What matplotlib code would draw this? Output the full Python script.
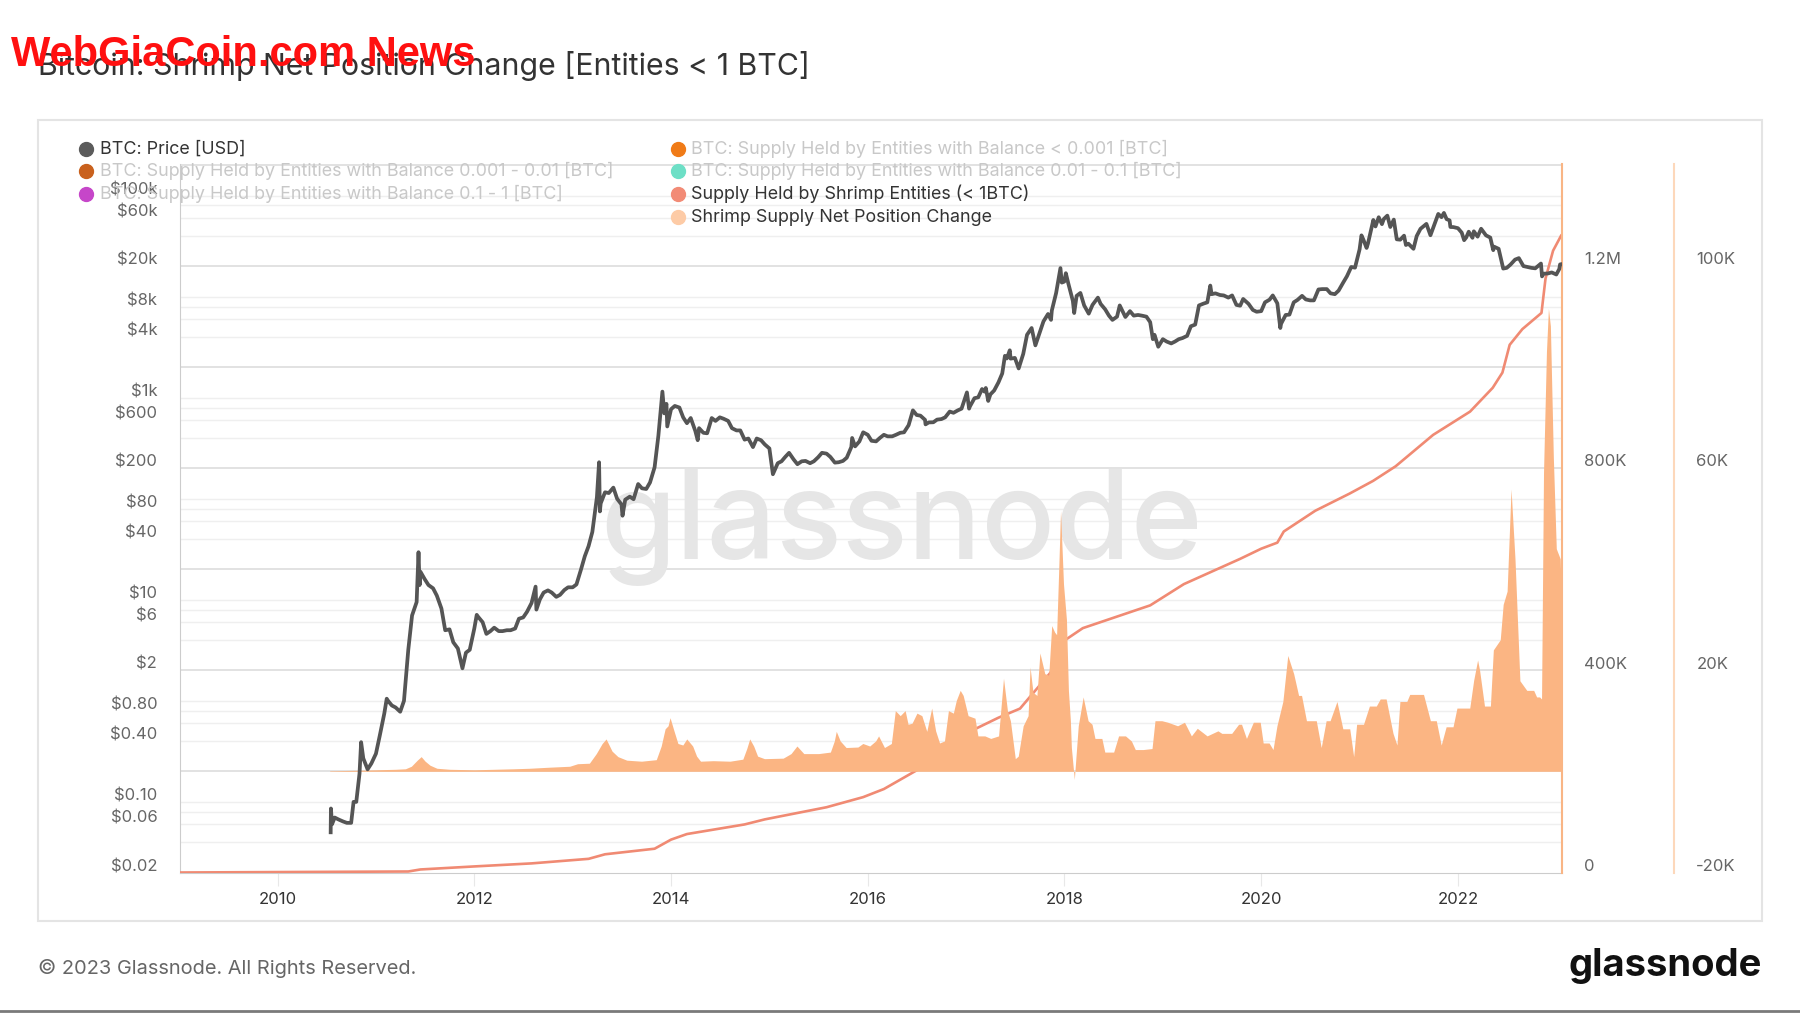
import numpy as np
import pandas as pd
import matplotlib
matplotlib.use('Agg')
import matplotlib.pyplot as plt
import matplotlib.transforms as mtransforms
from matplotlib.lines import Line2D
from matplotlib.patches import Rectangle

plt.rcParams['font.family'] = ['Inter', 'DejaVu Sans']

# ---------------- data ----------------
# BTC price (USD), roughly twice a month plus the visible peaks / troughs
price_dates = [
    '2010-07-17', '2010-07-18', '2010-07-22', '2010-08-01', '2010-08-15', '2010-09-01', '2010-09-15', '2010-10-01', '2010-10-10', '2010-10-20', '2010-11-01', '2010-11-07', '2010-11-15', '2010-12-01', '2010-12-15',
    '2011-01-01', '2011-01-15', '2011-02-01', '2011-02-10', '2011-02-15', '2011-03-01', '2011-03-15', '2011-04-01', '2011-04-15', '2011-05-01', '2011-05-15', '2011-06-01', '2011-06-08', '2011-06-12', '2011-06-15', '2011-07-01', '2011-07-15', '2011-08-01', '2011-08-15', '2011-09-01', '2011-09-15', '2011-10-01', '2011-10-15', '2011-11-01', '2011-11-18', '2011-12-01', '2011-12-15',
    '2012-01-01', '2012-01-10', '2012-01-15', '2012-02-01', '2012-02-15', '2012-03-01', '2012-03-15', '2012-04-01', '2012-04-15', '2012-05-01', '2012-05-15', '2012-06-01', '2012-06-15', '2012-07-01', '2012-07-15', '2012-08-01', '2012-08-16', '2012-08-19', '2012-09-01', '2012-09-15', '2012-10-01', '2012-10-15', '2012-11-01', '2012-11-15', '2012-12-01', '2012-12-15',
    '2013-01-01', '2013-01-15', '2013-02-01', '2013-02-15', '2013-03-01', '2013-03-15', '2013-04-01', '2013-04-09', '2013-04-12', '2013-04-15', '2013-05-01', '2013-05-15', '2013-06-01', '2013-06-15', '2013-07-01', '2013-07-05', '2013-07-15', '2013-08-01', '2013-08-15', '2013-09-01', '2013-09-15', '2013-10-01', '2013-10-15', '2013-11-01', '2013-11-15', '2013-11-30', '2013-12-07', '2013-12-15', '2013-12-18',
    '2014-01-01', '2014-01-15', '2014-02-01', '2014-02-15', '2014-03-01', '2014-03-15', '2014-04-01', '2014-04-10', '2014-04-15', '2014-05-01', '2014-05-15', '2014-06-01', '2014-06-15', '2014-07-01', '2014-07-15', '2014-08-01', '2014-08-15', '2014-09-01', '2014-09-15', '2014-10-01', '2014-10-15', '2014-11-01', '2014-11-15', '2014-12-01', '2014-12-15',
    '2015-01-01', '2015-01-14', '2015-02-01', '2015-02-15', '2015-03-01', '2015-03-15', '2015-04-01', '2015-04-15', '2015-05-01', '2015-05-15', '2015-06-01', '2015-06-15', '2015-07-01', '2015-07-15', '2015-08-01', '2015-08-15', '2015-09-01', '2015-09-15', '2015-10-01', '2015-10-15', '2015-11-01', '2015-11-04', '2015-11-15', '2015-12-01', '2015-12-15',
    '2016-01-01', '2016-01-15', '2016-02-01', '2016-02-15', '2016-03-01', '2016-03-15', '2016-04-01', '2016-04-15', '2016-05-01', '2016-05-15', '2016-06-01', '2016-06-17', '2016-07-01', '2016-07-15', '2016-08-01', '2016-08-03', '2016-08-15', '2016-09-01', '2016-09-15', '2016-10-01', '2016-10-15', '2016-11-01', '2016-11-15', '2016-12-01', '2016-12-15',
    '2017-01-04', '2017-01-12', '2017-01-15', '2017-02-01', '2017-02-15', '2017-03-01', '2017-03-10', '2017-03-15', '2017-03-24', '2017-04-01', '2017-04-15', '2017-05-01', '2017-05-15', '2017-05-25', '2017-06-01', '2017-06-12', '2017-06-15', '2017-07-01', '2017-07-15', '2017-08-01', '2017-08-15', '2017-09-01', '2017-09-15', '2017-10-01', '2017-10-15', '2017-11-01', '2017-11-12', '2017-11-15', '2017-12-01', '2017-12-17', '2017-12-22', '2017-12-31',
    '2018-01-06', '2018-01-15', '2018-02-01', '2018-02-06', '2018-02-15', '2018-03-01', '2018-03-15', '2018-04-01', '2018-04-15', '2018-05-05', '2018-05-15', '2018-06-01', '2018-06-15', '2018-06-28', '2018-07-15', '2018-07-25', '2018-08-15', '2018-09-01', '2018-09-15', '2018-10-01', '2018-10-15', '2018-11-01', '2018-11-15', '2018-11-25', '2018-12-01', '2018-12-15',
    '2019-01-01', '2019-01-15', '2019-02-01', '2019-02-15', '2019-03-01', '2019-03-15', '2019-04-01', '2019-04-15', '2019-05-01', '2019-05-15', '2019-06-01', '2019-06-15', '2019-06-26', '2019-07-01', '2019-07-15', '2019-08-01', '2019-08-15', '2019-09-01', '2019-09-15', '2019-10-01', '2019-10-15', '2019-10-26', '2019-11-15', '2019-12-01', '2019-12-15',
    '2020-01-01', '2020-01-15', '2020-02-01', '2020-02-13', '2020-03-01', '2020-03-12', '2020-03-15', '2020-04-01', '2020-04-15', '2020-05-01', '2020-05-15', '2020-06-01', '2020-06-15', '2020-07-01', '2020-07-15', '2020-08-01', '2020-08-15', '2020-09-01', '2020-09-15', '2020-10-01', '2020-10-15', '2020-11-01', '2020-11-15', '2020-12-01', '2020-12-15',
    '2021-01-01', '2021-01-08', '2021-01-15', '2021-01-27', '2021-02-01', '2021-02-15', '2021-02-21', '2021-03-01', '2021-03-13', '2021-03-25', '2021-04-01', '2021-04-14', '2021-04-25', '2021-05-08', '2021-05-19', '2021-06-01', '2021-06-15', '2021-06-22', '2021-07-01', '2021-07-20', '2021-08-01', '2021-08-15', '2021-09-06', '2021-09-21', '2021-10-01', '2021-10-20', '2021-11-01', '2021-11-10', '2021-11-20', '2021-12-01', '2021-12-04', '2021-12-15',
    '2022-01-01', '2022-01-15', '2022-01-24', '2022-02-01', '2022-02-10', '2022-02-24', '2022-03-01', '2022-03-15', '2022-03-28', '2022-04-15', '2022-05-01', '2022-05-12', '2022-05-15', '2022-06-01', '2022-06-18', '2022-07-01', '2022-07-15', '2022-08-01', '2022-08-15', '2022-09-01', '2022-09-15', '2022-10-01', '2022-10-15', '2022-11-05', '2022-11-09', '2022-11-15', '2022-12-01', '2022-12-15',
    '2023-01-01', '2023-01-12', '2023-01-15', '2023-01-20',
]
price_usd = [
    0.05, 0.086, 0.06, 0.07, 0.067, 0.064, 0.062, 0.062, 0.10, 0.10, 0.19, 0.39, 0.27, 0.21, 0.24,
    0.30, 0.45, 0.75, 1.05, 1.0, 0.90, 0.86, 0.78, 1.0, 3.2, 7.0, 9.5, 29.6, 14, 19, 16, 14, 13, 11, 8.2, 5.0, 5.1, 3.8, 3.3, 2.1, 3.0, 3.2,
    5.2, 7.1, 6.8, 6.0, 4.6, 4.9, 5.3, 4.9, 4.9, 5.0, 5.0, 5.2, 6.5, 6.7, 7.6, 9.3, 13.5, 8.0, 10.1, 11.8, 12.4, 11.8, 10.7, 11.2, 12.5, 13.3,
    13.3, 14.2, 20, 27, 34, 47, 104, 230, 75, 90, 116, 114, 129, 100, 88, 68, 98, 105, 99, 140, 127, 125, 145, 205, 420, 1150, 700, 870, 520,
    770, 830, 800, 640, 560, 630, 470, 380, 500, 450, 445, 630, 590, 640, 620, 590, 500, 475, 475, 385, 395, 325, 395, 380, 345,
    315, 175, 225, 235, 260, 285, 245, 220, 235, 237, 225, 235, 258, 285, 280, 260, 228, 230, 237, 255, 325, 400, 330, 370, 455,
    430, 375, 370, 400, 430, 415, 415, 430, 450, 455, 535, 750, 675, 665, 605, 545, 570, 572, 608, 615, 640, 730, 710, 750, 780,
    1130, 780, 820, 990, 1010, 1220, 1150, 1250, 930, 1080, 1180, 1420, 1740, 2600, 2450, 2950, 2440, 2480, 1950, 2720, 4200, 4900, 3300, 4400, 5700, 6750, 5900, 7300, 10900, 19200, 13800, 14100,
    17100, 13600, 9100, 6900, 10200, 10900, 8200, 6800, 8300, 9800, 8500, 7500, 6500, 5900, 6350, 8200, 6300, 7200, 6500, 6600, 6500, 6350, 5600, 3800, 4200, 3200,
    3800, 3600, 3450, 3600, 3800, 3900, 4100, 5100, 5300, 8200, 8550, 8800, 12900, 10600, 10800, 10400, 10300, 9800, 10300, 8300, 8150, 9500, 8500, 7400, 7100,
    7200, 8800, 9350, 10300, 8600, 4900, 5400, 6600, 6650, 8800, 9300, 10200, 9400, 9200, 9200, 11800, 11900, 11900, 10800, 10600, 11500, 13800, 15950, 19700, 19400,
    29400, 40500, 36800, 30400, 33500, 48700, 57500, 49600, 61200, 52300, 58800, 63500, 49000, 58000, 37000, 36700, 40200, 32500, 33500, 29800, 39900, 47000, 52600, 40600, 48100, 66000, 61300, 67500, 58600, 57000, 49000, 48900,
    47700, 43100, 36300, 38700, 44000, 38300, 44400, 39300, 47100, 40500, 38500, 28900, 31300, 29800, 19000, 19300, 20800, 23300, 24100, 20100, 19700, 19300, 19100, 21300, 15900, 16900, 17000, 17400,
    16600, 18800, 20900, 21000,
]

# supply held by shrimp entities (thousand BTC)
supply_dates = ['2009-01-03', '2011-05-01', '2011-06-15', '2012-01-01', '2012-08-01', '2013-03-01', '2013-05-01',
                '2013-11-01', '2014-01-01', '2014-03-01', '2014-10-01', '2014-12-15', '2015-08-01', '2015-12-15',
                '2016-03-01', '2016-07-01', '2017-02-01', '2017-05-01', '2017-07-20', '2017-11-10', '2018-01-05',
                '2018-03-10', '2018-11-15', '2019-03-20', '2019-10-15', '2020-01-01', '2020-03-01', '2020-03-25',
                '2020-07-20', '2020-11-25', '2021-02-20', '2021-05-15', '2021-10-01', '2022-02-15', '2022-05-10',
                '2022-06-15', '2022-07-12', '2022-08-28', '2022-11-07', '2022-11-22', '2022-12-20', '2023-01-20']
supply_k = [0, 2, 6, 12, 18, 27, 36, 47, 65, 76, 95, 105, 129, 149, 165, 202, 283, 306, 324, 395, 460,
            483, 528, 570, 620, 640, 652, 674, 715, 749, 774, 803, 865, 911, 958, 988, 1043, 1074, 1106,
            1174, 1229, 1260]

# shrimp supply net position change (thousand BTC), x in decimal years
net_year = [
    2010.53, 2010.8, 2011.0, 2011.2, 2011.3, 2011.36, 2011.42, 2011.46, 2011.5, 2011.55, 2011.62, 2011.75, 2012.0, 2012.2, 2012.4, 2012.56, 2012.75, 2012.97,
    2013.05, 2013.17, 2013.24, 2013.3, 2013.34, 2013.4, 2013.46, 2013.55, 2013.7, 2013.85, 2013.9, 2013.94, 2013.97, 2013.99,
    2014.03, 2014.07, 2014.12, 2014.16, 2014.22, 2014.26, 2014.3, 2014.43, 2014.6, 2014.73, 2014.77, 2014.8, 2014.84, 2014.88, 2014.95,
    2015.14, 2015.22, 2015.28, 2015.35, 2015.5, 2015.62, 2015.66, 2015.68, 2015.72, 2015.78, 2015.9, 2015.95,
    2016.02, 2016.08, 2016.11, 2016.17, 2016.24, 2016.28, 2016.33, 2016.38, 2016.41, 2016.45, 2016.5, 2016.55, 2016.6, 2016.65, 2016.69, 2016.73, 2016.78, 2016.82, 2016.87, 2016.9, 2016.94, 2016.97,
    2017.02, 2017.09, 2017.12, 2017.19, 2017.25, 2017.33, 2017.38, 2017.42, 2017.45, 2017.5, 2017.53, 2017.58, 2017.63, 2017.65, 2017.68, 2017.72, 2017.75, 2017.8, 2017.84, 2017.87, 2017.9, 2017.92, 2017.94, 2017.96, 2017.99,
    2018.02, 2018.04, 2018.06, 2018.07, 2018.1, 2018.14, 2018.19, 2018.24, 2018.28, 2018.31, 2018.38, 2018.41, 2018.5, 2018.55, 2018.62, 2018.68, 2018.72, 2018.8, 2018.89, 2018.92, 2018.99,
    2019.05, 2019.15, 2019.22, 2019.29, 2019.35, 2019.45, 2019.56, 2019.6, 2019.7, 2019.77, 2019.8, 2019.85, 2019.92, 2019.99,
    2020.02, 2020.08, 2020.12, 2020.16, 2020.22, 2020.27, 2020.33, 2020.38, 2020.41, 2020.46, 2020.56, 2020.61, 2020.66, 2020.7, 2020.77, 2020.83, 2020.9, 2020.94, 2020.97,
    2021.04, 2021.1, 2021.17, 2021.21, 2021.27, 2021.34, 2021.38, 2021.41, 2021.48, 2021.51, 2021.58, 2021.65, 2021.72, 2021.78, 2021.83, 2021.88, 2021.95, 2021.99,
    2022.05, 2022.12, 2022.16, 2022.2, 2022.22, 2022.27, 2022.33, 2022.36, 2022.43, 2022.46, 2022.5, 2022.54, 2022.58, 2022.63, 2022.7, 2022.77, 2022.8, 2022.83, 2022.85, 2022.87, 2022.9, 2022.92, 2022.94, 2022.97, 2023.0, 2023.04, 2023.055,
]
net_k = [
    0.1, 0.2, 0.3, 0.4, 0.5, 1.0, 2.2, 2.9, 2.0, 1.2, 0.6, 0.4, 0.3, 0.4, 0.5, 0.6, 0.8, 1.0,
    1.5, 1.6, 3.5, 5.5, 6.4, 4.0, 2.9, 2.2, 2.0, 2.3, 5.0, 8.4, 9.0, 10.6,
    8.0, 5.5, 5.2, 6.4, 5.0, 3.0, 2.0, 2.1, 2.0, 2.4, 4.5, 6.4, 5.0, 3.0, 2.5,
    2.6, 3.5, 5.0, 3.5, 3.5, 3.8, 6.0, 7.9, 6.0, 4.7, 4.8, 5.5,
    5.0, 6.0, 7.0, 4.7, 5.5, 12.0, 11.0, 12.0, 9.3, 9.5, 11.5, 11.0, 7.9, 12.5, 8.0, 5.6, 6.0, 12.0, 11.5, 14.0, 16.0, 15.0,
    11.0, 10.5, 7.0, 7.0, 6.5, 7.0, 18.4, 12.0, 10.0, 2.5, 3.0, 9.0, 11.0, 20.6, 15.6, 15.0, 23.4, 19.3, 19.0, 28.8, 27.5, 27.0, 39.0, 51.5, 37.0,
    30.0, 16.0, 10.0, 4.7, -1.6, 9.0, 14.7, 10.0, 9.3, 6.5, 6.5, 3.8, 3.8, 7.0, 7.0, 6.0, 4.3, 4.3, 4.5, 10.0, 10.0,
    9.7, 9.0, 9.7, 7.0, 8.5, 7.0, 8.0, 7.5, 7.5, 9.3, 9.3, 6.5, 9.7, 9.7,
    5.6, 5.6, 4.3, 9.0, 13.8, 22.9, 19.3, 15.0, 15.0, 10.0, 10.0, 4.7, 10.0, 10.0, 13.8, 8.4, 8.4, 2.9, 9.3,
    9.3, 12.9, 12.9, 14.3, 14.3, 7.5, 5.2, 13.8, 13.8, 15.2, 15.2, 15.2, 10.0, 10.0, 5.2, 8.8, 8.8, 12.5,
    12.5, 12.5, 18.0, 22.0, 20.0, 12.9, 12.9, 24.0, 26.0, 33.0, 35.6, 55.8, 42.0, 17.9, 16.0, 16.0, 14.7, 14.7, 14.3, 59.0, 83.0, 91.5, 88.0, 62.0, 44.0, 42.0, 30.0,
]

price_ticks = [0.02, 0.06, 0.1, 0.4, 0.8, 2, 6, 10, 40, 80, 200, 600, 1000, 4000, 8000, 20000, 60000, 100000]
price_labels = ['$0.02', '$0.06', '$0.10', '$0.40', '$0.80', '$2', '$6', '$10', '$40', '$80', '$200', '$600',
                '$1k', '$4k', '$8k', '$20k', '$60k', '$100k']
supply_ticks = [0, 400e3, 800e3, 1.2e6]
supply_labels = ['0', '400K', '800K', '1.2M']
net_ticks = [-20e3, 20e3, 60e3, 100e3]
net_labels = ['-20K', '20K', '60K', '100K']
year_ticks = [2010, 2012, 2014, 2016, 2018, 2020, 2022]

legend_labels = ['BTC: Price [USD]',
                 'BTC: Supply Held by Entities with Balance 0.001 - 0.01 [BTC]',
                 'BTC: Supply Held by Entities with Balance 0.1 - 1 [BTC]',
                 'BTC: Supply Held by Entities with Balance < 0.001 [BTC]',
                 'BTC: Supply Held by Entities with Balance 0.01 - 0.1 [BTC]',
                 'Supply Held by Shrimp Entities (< 1BTC)',
                 'Shrimp Supply Net Position Change']
legend_colors = ['#5b5b5b', '#c9611d', '#c646c9', '#f07b17', '#6ddfc6', '#f28b76', '#fdcba6']
legend_active = [True, False, False, False, False, True, True]

assert len(price_dates) == len(price_usd)
assert len(supply_dates) == len(supply_k)
assert len(net_year) == len(net_k)


def dec_year(dates):
    d = pd.to_datetime(pd.Series(dates))
    start = pd.to_datetime(d.dt.year.astype(str) + '-01-01')
    end = pd.to_datetime((d.dt.year + 1).astype(str) + '-01-01')
    return (d.dt.year + (d - start) / (end - start)).to_numpy()


price_x = dec_year(price_dates)
supply_x = dec_year(supply_dates)

PRICE_COL = '#555555'
SUPPLY_COL = '#f08a73'
AREA_COL = '#fbb583'
X0, X1 = 2009.01, 2023.062
P0, P1 = 0.02, 2.05e5

fig = plt.figure(figsize=(18, 10.13), dpi=100)
fig.patch.set_facecolor('white')

# outer panel
fig.add_artist(Rectangle((38 / 1800, 1 - 921 / 1013), 1724 / 1800, 801 / 1013, transform=fig.transFigure,
                         fill=False, edgecolor='#e4e4e4', lw=1.5))
fig.add_artist(Line2D([0, 1], [1 - 1010.5 / 1013] * 2, transform=fig.transFigure, color='#7a7a7a', lw=2))

ax = fig.add_axes([180.2 / 1800, 1 - 872.5 / 1013, 1382.2 / 1800, 708.3 / 1013])
ax.set_yscale('log')
ax.set_xlim(X0, X1)
ax.set_ylim(P0, P1)

# grid: 2x10^k darker, 4/6/8/10 x10^k lighter
for k in range(-2, 5):
    for m in (4, 6, 8, 10):
        ax.axhline(m * 10.0 ** k, color='#efefef', lw=1, zorder=0.5)
for k in range(-1, 6):
    ax.axhline(2 * 10.0 ** k, color='#dadada', lw=1.1, zorder=0.6)

ax.text(0.5006, 1 - 559 / 1013, 'glassnode', transform=fig.transFigure, ha='center', va='baseline',
        fontsize=88, fontweight='medium', color='#e6e6e6', zorder=0.8)

for s in ('top', 'right'):
    ax.spines[s].set_visible(False)
ax.spines['left'].set_color('#cccccc')
ax.spines['bottom'].set_color('#cccccc')
ax.spines['left'].set_zorder(3)
ax.set_yticks(price_ticks)
ax.set_yticklabels(price_labels)
ax.yaxis.set_minor_locator(matplotlib.ticker.NullLocator())
ax.tick_params(axis='y', length=0, pad=16.5, labelsize=12, labelcolor='#666666')
ax.set_xticks(year_ticks)
ax.set_xticklabels([str(y) for y in year_ticks])
ax.tick_params(axis='x', length=9, color='#e8e8e8', pad=5, labelsize=12, labelcolor='#333333')

# supply held by shrimp
ax_sup = ax.twinx()
ax_sup.set_xlim(X0, X1)
ax_sup.set_ylim(0, 1.4e6)
ax_sup.plot(supply_x, np.array(supply_k) * 1000, color=SUPPLY_COL, lw=1.9, solid_capstyle='round')
ax_sup.set_yticks(supply_ticks)
ax_sup.set_yticklabels(supply_labels)
ax_sup.tick_params(axis='y', length=0, pad=15.8, labelsize=12, labelcolor='#666666')
for s in ('top', 'left', 'bottom'):
    ax_sup.spines[s].set_visible(False)
ax_sup.spines['right'].set_color('#f9b585')
ax_sup.spines['right'].set_linewidth(1.5)

# net position change
ax_net = ax.twinx()
ax_net.set_xlim(X0, X1)
ax_net.set_ylim(-20e3, 120e3)
ax_net.fill_between(net_year, 0, np.array(net_k) * 1000, color=AREA_COL, lw=0)
ax_net.set_yticks(net_ticks)
ax_net.set_yticklabels(net_labels)
ax_net.tick_params(axis='y', length=0, pad=15.8, labelsize=12, labelcolor='#666666')
for s in ('top', 'left', 'bottom'):
    ax_net.spines[s].set_visible(False)
ax_net.spines['right'].set_position(('outward', 112 * 0.72))
ax_net.spines['right'].set_color('#fdd8bb')
ax_net.spines['right'].set_linewidth(1.5)

# price on top
ax_p = ax.twinx()
ax_p.set_yscale('log')
ax_p.set_xlim(X0, X1)
ax_p.set_ylim(P0, P1)
ax_p.plot(price_x, price_usd, color=PRICE_COL, lw=2.7, solid_joinstyle='round')
ax_p.set_yticks([])
ax_p.yaxis.set_minor_locator(matplotlib.ticker.NullLocator())
for s in ax_p.spines.values():
    s.set_visible(False)

# y labels sit a little above their grid line, as in the original
lift = mtransforms.ScaledTranslation(0, 7.5 / 100, fig.dpi_scale_trans)
for a in (ax, ax_sup, ax_net):
    for t in a.yaxis.get_major_ticks():
        t.label1.set_transform(t.label1.get_transform() + lift)
        t.label2.set_transform(t.label2.get_transform() + lift)

# legend
rows_y = [149, 171, 194, 217]
for i, (lab, col, act) in enumerate(zip(legend_labels, legend_colors, legend_active)):
    if i < 3:
        mx, tx, ry = 86, 100, rows_y[i]
    else:
        mx, tx, ry = 678, 691, rows_y[i - 3]
    fig.add_artist(Line2D([mx / 1800], [1 - ry / 1013], transform=fig.transFigure, marker='o',
                          markersize=10, color=col, lw=0))
    fig.text(tx / 1800, 1 - ry / 1013, lab, fontsize=12.9, va='center',
             color='#333333' if act else '#c8c8c8')

# texts
fig.text(38 / 1800, 1 - 66 / 1013, 'Bitcoin: Shrimp Net Position Change [Entities < 1 BTC]',
         fontsize=21.8, color='#333333', va='center')
fig.text(11 / 1800, 1 - 55 / 1013, 'WebGiaCoin.com News', fontsize=30, fontweight='bold', color='#ff1010',
         va='center', family=['Liberation Sans', 'DejaVu Sans'])
fig.text(38 / 1800, 1 - 968 / 1013, '\u00a9 2023 Glassnode. All Rights Reserved.', fontsize=14.4,
         color='#666666', va='center')
fig.text(1762 / 1800, 1 - 966 / 1013, 'glassnode', fontsize=27.5, fontweight='bold', color='#111111',
         ha='right', va='center')

fig.savefig('out.png', dpi=100)
